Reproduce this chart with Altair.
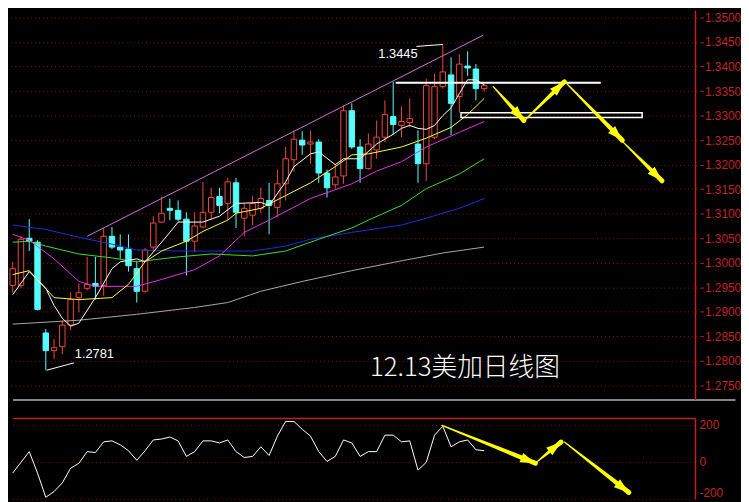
import math
import altair as alt
import pandas as pd
import numpy as np

# ---------------- data ----------------
idx = list(range(-1, 57))
opens = [1.2954,1.2954,1.3050,1.3042,1.2857,1.2821,1.2829,1.2873,1.2929,1.2948,1.2958,1.2954,1.3054,1.3032,1.3028,1.2988,1.2942,1.3032,1.3083,1.3111,1.3107,1.3089,1.3044,1.3073,1.3103,1.3135,1.3121,1.3163,1.3091,1.3097,1.3111,1.3127,1.3113,1.3161,1.3210,1.3250,1.3242,1.3246,1.3183,1.3159,1.3177,1.3310,1.3236,1.3192,1.3230,1.3256,1.3298,1.3280,1.3286,1.3242,1.3202,1.3256,1.3359,1.3383,1.3339,1.3401,1.3395,1.3355]
highs = [1.3002,1.3054,1.3089,1.3046,1.2865,1.2845,1.2883,1.2940,1.2958,1.3012,1.3012,1.3071,1.3073,1.3058,1.3058,1.3004,1.3030,1.3095,1.3135,1.3131,1.3127,1.3103,1.3103,1.3165,1.3153,1.3153,1.3173,1.3173,1.3121,1.3137,1.3153,1.3163,1.3190,1.3236,1.3270,1.3268,1.3270,1.3252,1.3190,1.3202,1.3321,1.3325,1.3252,1.3264,1.3290,1.3331,1.3369,1.3319,1.3335,1.3270,1.3375,1.3385,1.3445,1.3419,1.3425,1.3431,1.3405,1.3365]
lows = [1.2939,1.2948,1.3024,1.2903,1.2781,1.2804,1.2814,1.2863,1.2899,1.2944,1.2925,1.2933,1.3028,1.3008,1.2982,1.2919,1.2939,1.3024,1.3081,1.3087,1.3085,1.2974,1.3022,1.3071,1.3089,1.3101,1.3087,1.3071,1.3054,1.3077,1.3101,1.3058,1.3093,1.3127,1.3186,1.3220,1.3202,1.3163,1.3133,1.3151,1.3161,1.3232,1.3163,1.3190,1.3212,1.3246,1.3262,1.3256,1.3276,1.3163,1.3167,1.3252,1.3355,1.3260,1.3306,1.3381,1.3331,1.3349]
closes = [1.2988,1.3048,1.3044,1.2905,1.2821,1.2827,1.2873,1.2925,1.2939,1.2956,1.2952,1.3054,1.3032,1.3026,1.2994,1.2942,1.3026,1.3081,1.3101,1.3107,1.3089,1.3044,1.3075,1.3103,1.3133,1.3117,1.3165,1.3103,1.3111,1.3121,1.3131,1.3117,1.3161,1.3212,1.3252,1.3240,1.3246,1.3183,1.3153,1.3175,1.3310,1.3236,1.3192,1.3242,1.3256,1.3302,1.3282,1.3288,1.3294,1.3202,1.3361,1.3359,1.3389,1.3325,1.3405,1.3397,1.3355,1.3361]

cci = [-58,0,58,-58,-189,-158,-111,-32,-5,58,53,111,116,95,63,11,63,121,126,137,116,32,58,116,116,105,121,58,26,32,84,37,142,221,221,179,142,58,5,32,121,105,32,58,58,147,147,111,116,-42,0,147,195,84,111,121,68,63]

ma5_k = [-1,1,3,4,5,6,7,9,11,12,14,15,16,18,19,22,24,26,29,30,32,33,35,36,38,39,41,43,44,45,46,47,48,49,50,51,52,53,54,55,56]
ma5_v = [1.2935,1.2982,1.2948,1.2913,1.2887,1.2871,1.2877,1.2929,1.2988,1.3002,1.3008,1.3002,1.3022,1.3062,1.3083,1.3083,1.3095,1.3121,1.3123,1.3117,1.3165,1.3196,1.3222,1.3226,1.3200,1.3212,1.3212,1.3242,1.3252,1.3262,1.3274,1.3280,1.3274,1.3272,1.3280,1.3300,1.3316,1.3345,1.3373,1.3373,1.3363]
ma10_k = [-1,1,4,7,11,13,15,17,20,22,25,26,29,32,35,38,40,42,46,49,52,54,56]
ma10_v = [1.2976,1.2984,1.2929,1.2925,1.2929,1.2956,1.3002,1.3024,1.3044,1.3064,1.3087,1.3101,1.3111,1.3137,1.3163,1.3196,1.3220,1.3222,1.3236,1.3254,1.3276,1.3302,1.3335]
ma20_k = [-1,1,4,7,9,14,17,21,24,27,30,35,40,43,46,49,53,56]
ma20_v = [1.3058,1.3046,1.3008,1.2962,1.2952,1.2952,1.2966,1.2986,1.3014,1.3062,1.3087,1.3131,1.3161,1.3187,1.3206,1.3236,1.3266,1.3288]
ma60_k = [-1,1,3,7,11,14,19,23,28,32,36,40,42,46,49,53,56]
ma60_v = [1.3042,1.3044,1.3034,1.3018,1.3010,1.3002,1.3012,1.3018,1.3014,1.3024,1.3048,1.3071,1.3087,1.3117,1.3151,1.3181,1.3212]
ma100_k = [-1,3,7,11,14,19,28,32,35,40,46,49,53,56]
ma100_v = [1.3077,1.3068,1.3052,1.3038,1.3026,1.3024,1.3024,1.3034,1.3048,1.3062,1.3077,1.3091,1.3111,1.3131]
ma200_k = [-1,7,14,21,25,29,34,40,46,51,56]
ma200_v = [1.2875,1.2883,1.2895,1.2909,1.2919,1.2942,1.2962,1.2984,1.3004,1.3020,1.3032]

price_ticks = [1.275,1.28,1.285,1.29,1.295,1.30,1.305,1.31,1.315,1.32,1.325,1.33,1.335,1.34,1.345,1.35]
cci_ticks = [-200, 0, 200]
cci_labels = ["-200", "0", "200"]

channel_k = [8, 55.9]
channel_v = [1.3054, 1.3464]
resist_k = [45.3, 70.1]
resist_v = [1.3367]
box_k = [53.2, 75.1]
box_v = [1.3296, 1.3306]
main_arrows = [(57.1, 1.3359, 60.8, 1.3290), (61.0, 1.3292, 65.7, 1.3369),
               (66.0, 1.3365, 72.7, 1.3250), (72.8, 1.3246, 77.5, 1.3167)]
cci_arrows = [(50.9, 200, 62.2, -5), (62.3, 0, 65.3, 110), (65.7, 110, 73.5, -163)]
hi_label = ["1.3445"]; hi_label_k = [43.2]; hi_label_v = [1.3425]
hi_conn_k = [47.8, 51.0]; hi_conn_v = [1.3441, 1.3445]
lo_label = ["1.2781"]; lo_label_k = [6.5]; lo_label_v = [1.2814]
lo_conn_k = [3.1, 6.4]; lo_conn_v = [1.2781, 1.2796]
title_txt = ["12.13美加日线图"]; title_k = [42.2]; title_v = [1.2786]
separator_v = [1.27203]
cci_top = [236.8]

# ---------------- styling ----------------
PLOT_W, PLOT_H, RIGHT_PAD = 700, 494, 41
XD = [-0.97, 81.55]
XS = alt.Scale(domain=XD, nice=False, zero=False)
YS_MAIN = alt.Scale(domain=[1.25179, 1.35139], nice=False, zero=False)
YS_CCI = alt.Scale(domain=[-200, 2442], nice=False, zero=False)
RED = "#f0483c"
CYAN = "#54fcfc"
AXRED = "#c81e1e"
LABRED = "#c02424"
GRID = "#801414"
YEL = "#ffff00"

AX_MAIN = alt.Axis(orient="right", values=price_ticks, format=".4f", title=None,
                   grid=True, gridColor=GRID, gridDash=[1, 3], gridWidth=1,
                   domain=False, ticks=True, tickColor=AXRED, tickSize=3,
                   labelColor=LABRED, labelFont="Liberation Sans", labelFontSize=12, labelPadding=1)


def X(f="k"):
    return alt.X(f + ":Q", scale=XS, axis=None)


def YM(f="v"):
    return alt.Y(f + ":Q", scale=YS_MAIN, axis=AX_MAIN)


def YC(f="v"):
    return alt.Y(f + ":Q", scale=YS_CCI, axis=None)


PX_PER_K = PLOT_W / (XD[1] - XD[0])
PX_PER_PRICE = PLOT_H / (1.35139 - 1.25179)
PX_PER_CCI = PLOT_H / 2642.0
X_RIGHT_EDGE = XD[0] + (PLOT_W + RIGHT_PAD) / PX_PER_K


def head_angle(k0, v0, k1, v1, pxv):
    dx = (k1 - k0) * PX_PER_K
    dy = -(v1 - v0) * pxv
    return math.degrees(math.atan2(dx, -dy)) % 360


def arrow_layers(arrows, Yf, pxv):
    trail_rows, head_rows = [], []
    for i, (k0, v0, k1, v1) in enumerate(arrows):
        trail_rows.append(dict(id=i, o=0, k=k0, v=v0, w=1.2))
        trail_rows.append(dict(id=i, o=1, k=k1, v=v1, w=5.0))
        head_rows.append(dict(k=k1, v=v1, a=head_angle(k0, v0, k1, v1, pxv)))
    tr = alt.Chart(pd.DataFrame(trail_rows)).mark_trail(color=YEL).encode(
        x=X(), y=Yf(), size=alt.Size("w:Q", scale=None, legend=None),
        detail="id:N", order="o:Q")
    hd = alt.Chart(pd.DataFrame(head_rows)).mark_point(
        shape="M0,0L0.62,1.9L-0.62,1.9Z", filled=True, color=YEL, opacity=1, size=260
    ).encode(x=X(), y=Yf(), angle=alt.Angle("a:Q", scale=None))
    return [tr, hd]


# ---------------- main panel ----------------
cdf = pd.DataFrame(dict(k=idx, o=opens, h=highs, l=lows, c=closes))
cdf["dir"] = np.where(cdf["c"] >= cdf["o"], "up", "down")

wicks = alt.Chart(cdf).mark_rule(strokeWidth=1, clip=True).encode(
    x=X(), y=YM("l"), y2="h:Q",
    color=alt.Color("dir:N", scale=alt.Scale(domain=["up", "down"], range=[RED, CYAN]), legend=None))
bodies = alt.Chart(cdf).mark_bar(width=5.5, strokeWidth=1, clip=True).encode(
    x=X(), y=YM("o"), y2="c:Q",
    fill=alt.Fill("dir:N", scale=alt.Scale(domain=["up", "down"], range=["#000000", CYAN]), legend=None),
    stroke=alt.Stroke("dir:N", scale=alt.Scale(domain=["up", "down"], range=[RED, CYAN]), legend=None))

ma_specs = [(ma200_k, ma200_v, "#a8a8a8"), (ma100_k, ma100_v, "#1e2ee6"),
            (ma60_k, ma60_v, "#3cdc3c"), (ma20_k, ma20_v, "#e632e6"),
            (ma10_k, ma10_v, "#ffff3c"), (ma5_k, ma5_v, "#ffffff")]
ma_layers = [alt.Chart(pd.DataFrame(dict(k=kk, v=vv))).mark_line(color=col, strokeWidth=1, clip=True)
             .encode(x=X(), y=YM()) for kk, vv, col in ma_specs]

channel = alt.Chart(pd.DataFrame(dict(k=channel_k, v=channel_v))).mark_line(
    color="#d070d8", strokeWidth=1).encode(x=X(), y=YM())
resist = alt.Chart(pd.DataFrame(dict(k=[resist_k[0]], k2=[resist_k[1]], v=resist_v))).mark_rule(
    color="#ffffff", strokeWidth=2).encode(x=X(), x2="k2:Q", y=YM())
box = alt.Chart(pd.DataFrame(dict(k=[box_k[0]], k2=[box_k[1]], v=[box_v[0]], v2=[box_v[1]]))).mark_rect(
    fillOpacity=0, stroke="#ffffff", strokeWidth=1.5).encode(x=X(), x2="k2:Q", y=YM(), y2="v2:Q")

hi_conn = alt.Chart(pd.DataFrame(dict(k=hi_conn_k, v=hi_conn_v))).mark_line(
    color="#ffffff", strokeWidth=1).encode(x=X(), y=YM())
lo_conn = alt.Chart(pd.DataFrame(dict(k=lo_conn_k, v=lo_conn_v))).mark_line(
    color="#ffffff", strokeWidth=1).encode(x=X(), y=YM())
hi_txt = alt.Chart(pd.DataFrame(dict(k=hi_label_k, v=hi_label_v, t=hi_label))).mark_text(
    color="#ffffff", font="Liberation Sans", fontSize=13, align="left", baseline="middle").encode(
    x=X(), y=YM(), text="t:N")
lo_txt = alt.Chart(pd.DataFrame(dict(k=lo_label_k, v=lo_label_v, t=lo_label))).mark_text(
    color="#ffffff", font="Liberation Sans", fontSize=13, align="left", baseline="middle").encode(
    x=X(), y=YM(), text="t:N")
title = alt.Chart(pd.DataFrame(dict(k=title_k, v=title_v, t=title_txt))).mark_text(
    color="#ffffff", font="Noto Sans CJK SC", fontSize=26, fontWeight=300,
    align="left", baseline="middle").encode(x=X(), y=YM(), text="t:N")
separator = alt.Chart(pd.DataFrame(dict(k=[XD[0]], k2=[X_RIGHT_EDGE], v=separator_v))).mark_rule(
    color="#b4b4b4", strokeWidth=1.5).encode(x=X(), x2="k2:Q", y=YM())
main_axis_line = alt.Chart(pd.DataFrame(dict(k=[XD[1]], v=[separator_v[0]], v2=[1.35139]))).mark_rule(
    color=AXRED, strokeWidth=1.5).encode(x=X(), y=YM(), y2="v2:Q")

main = alt.layer(wicks, bodies, *ma_layers, channel, resist, box, hi_conn, lo_conn,
                 hi_txt, lo_txt, title, separator, main_axis_line,
                 *arrow_layers(main_arrows, YM, PX_PER_PRICE))

# ---------------- CCI panel ----------------
cci_df = pd.DataFrame(dict(k=idx, v=cci))
cci_grid = alt.Chart(pd.DataFrame(dict(k=[XD[0]] * 3, k2=[XD[1]] * 3, v=cci_ticks))).mark_rule(
    color=GRID, strokeWidth=1, strokeDash=[1, 3]).encode(x=X(), x2="k2:Q", y=YC())
cci_line = alt.Chart(cci_df).mark_line(color="#ffffff", strokeWidth=1, clip=True).encode(x=X(), y=YC())
cci_border = alt.Chart(pd.DataFrame(dict(k=[XD[0]], k2=[XD[1]], v=cci_top))).mark_rule(
    color=AXRED, strokeWidth=1.5).encode(x=X(), x2="k2:Q", y=YC())
cci_axis_line = alt.Chart(pd.DataFrame(dict(k=[XD[1]], v=[-200], v2=cci_top))).mark_rule(
    color=AXRED, strokeWidth=1.5).encode(x=X(), y=YC(), y2="v2:Q")
cci_lab = alt.Chart(pd.DataFrame(dict(k=[XD[1]] * 2, v=cci_ticks[1:], t=cci_labels[1:]))).mark_text(
    color=LABRED, font="Liberation Sans", fontSize=12, align="left", baseline="middle", dx=4).encode(
    x=X(), y=YC(), text="t:N")
cci_lab_low = alt.Chart(pd.DataFrame(dict(k=[XD[1]], v=cci_ticks[:1], t=cci_labels[:1]))).mark_text(
    color=LABRED, font="Liberation Sans", fontSize=12, align="left", baseline="bottom", dx=4, dy=1).encode(
    x=X(), y=YC(), text="t:N")

lower = alt.layer(cci_grid, cci_line, cci_border, cci_axis_line, cci_lab, cci_lab_low,
                  *arrow_layers(cci_arrows, YC, PX_PER_CCI))

chart = alt.layer(main, lower).resolve_scale(y="independent").properties(
    width=PLOT_W, height=PLOT_H,
    autosize=alt.AutoSizeParams(type="none"),
    padding={"left": 0, "top": 0, "right": RIGHT_PAD, "bottom": 0},
    background="#000000"
).configure_view(stroke=None)

chart.save("out.html", embed_options={"renderer": "svg", "actions": False})
